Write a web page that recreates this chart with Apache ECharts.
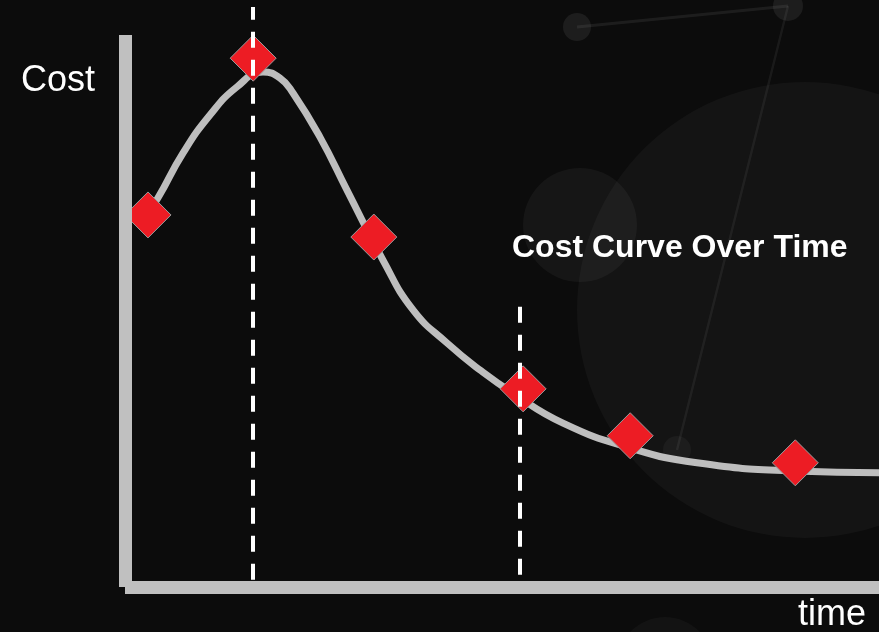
<!DOCTYPE html>
<html>
<head>
<meta charset="utf-8">
<script src="https://cdn.jsdelivr.net/npm/echarts@6/dist/echarts.min.js"></script>
<style>
html, body { margin: 0; padding: 0; background: #0c0c0c; }
#chart { width: 879px; height: 632px; }
</style>
</head>
<body>
<div id="chart"></div>
<script>
// the smooth cost curve (x: time 0-100, y: cost 0-100)
var curveX = [3.05, 4.38, 7.69, 11.27, 14.85, 18.30, 20.56, 22.28, 25.86, 29.44, 34.22, 38.20, 42.71, 47.08, 51.46, 58.09, 66.98, 75.86, 88.86, 100];
var curveY = [67.8, 70.5, 78.6, 85.5, 90.6, 93.3, 92.2, 89.5, 81.5, 71.9, 59.2, 50.2, 44.2, 39.3, 35.1, 29.7, 25.2, 22.5, 21.0, 20.7];

// red diamond points
var pointX = [3.05, 17.0, 33.0, 52.8, 67.0, 88.9];
var pointY = [67.4, 95.8, 63.4, 35.9, 27.4, 22.5];

// dashed reference lines: x position, y from, y to
var dashX = [17.0, 52.4];
var dashFrom = [1.3, 2.2];
var dashTo = [105.1, 51.1];
var dashMax = 105.1;

var chart = echarts.init(document.getElementById('chart'));

var curveData = curveX.map(function (x, i) { return [x, curveY[i]]; });
var pointData = pointX.map(function (x, i) { return [x, pointY[i]]; });
var dashData = dashX.map(function (x, i) {
  return [{ coord: [x, dashFrom[i]] }, { coord: [x, dashTo[i]] }];
});

var axisLine = { show: true, lineStyle: { color: '#c0c0c0', width: 13, cap: 'butt' } };
var hidden = { show: false };

var option = {
  backgroundColor: '#0c0c0c',
  animation: false,
  grid: [
    { left: 125, right: 0, top: 35, bottom: 45 },
    { left: 125, right: 0, top: 7, bottom: 45 }
  ],
  xAxis: [
    { type: 'value', min: 0, max: 100, z: 10, gridIndex: 0,
      axisLine: axisLine, axisTick: hidden, axisLabel: hidden, splitLine: hidden },
    { type: 'value', min: 0, max: 100, gridIndex: 1,
      axisLine: hidden, axisTick: hidden, axisLabel: hidden, splitLine: hidden }
  ],
  yAxis: [
    { type: 'value', min: 0, max: 100, z: 10, gridIndex: 0,
      axisLine: axisLine, axisTick: hidden, axisLabel: hidden, splitLine: hidden },
    { type: 'value', min: 0, max: dashMax, gridIndex: 1,
      axisLine: hidden, axisTick: hidden, axisLabel: hidden, splitLine: hidden }
  ],
  graphic: [
    // faint background decoration
    { type: 'circle', z: -10, shape: { cx: 805, cy: 310, r: 228 }, style: { fill: 'rgba(255,255,255,0.035)' } },
    { type: 'circle', z: -10, shape: { cx: 580, cy: 225, r: 57 }, style: { fill: 'rgba(255,255,255,0.045)' } },
    { type: 'circle', z: -10, shape: { cx: 577, cy: 27, r: 14 }, style: { fill: 'rgba(255,255,255,0.07)' } },
    { type: 'circle', z: -10, shape: { cx: 788, cy: 6, r: 15 }, style: { fill: 'rgba(255,255,255,0.07)' } },
    { type: 'circle', z: -10, shape: { cx: 677, cy: 450, r: 14 }, style: { fill: 'rgba(255,255,255,0.04)' } },
    { type: 'circle', z: -10, shape: { cx: 665, cy: 665, r: 48 }, style: { fill: 'rgba(255,255,255,0.03)' } },
    { type: 'line', z: -10, shape: { x1: 577, y1: 27, x2: 788, y2: 6 }, style: { stroke: 'rgba(255,255,255,0.07)', lineWidth: 3 } },
    { type: 'line', z: -10, shape: { x1: 788, y1: 6, x2: 677, y2: 450 }, style: { stroke: 'rgba(255,255,255,0.06)', lineWidth: 2.5 } },
    { type: 'text', x: 21, y: 81, style: { text: 'Cost', fill: '#ffffff', font: '36px "Liberation Sans", Arial', verticalAlign: 'middle' } },
    { type: 'text', x: 798, y: 615, style: { text: 'time', fill: '#ffffff', font: '36px "Liberation Sans", Arial', verticalAlign: 'middle' } },
    { type: 'text', x: 512, y: 248, style: { text: 'Cost Curve Over Time', fill: '#ffffff', font: 'bold 32px "Liberation Sans", Arial', verticalAlign: 'middle' } }
  ],
  series: [
    {
      type: 'line', z: 2, data: curveData, smooth: 0.5, showSymbol: false, clip: false,
      lineStyle: { color: '#bebebe', width: 7 }
    },
    {
      type: 'scatter', z: 3, data: pointData, symbol: 'diamond', symbolSize: 46, clip: false,
      itemStyle: { color: '#ed1c24', opacity: 1, borderColor: '#9a9a9a', borderWidth: 1 }
    },
    {
      type: 'line', z: 4, data: [], xAxisIndex: 1, yAxisIndex: 1, clip: false,
      markLine: {
        silent: true, symbol: 'none', label: { show: false },
        lineStyle: { color: '#ffffff', width: 4, type: [16, 12], opacity: 1 },
        data: dashData
      }
    }
  ]
};
chart.setOption(option);
</script>
</body>
</html>
